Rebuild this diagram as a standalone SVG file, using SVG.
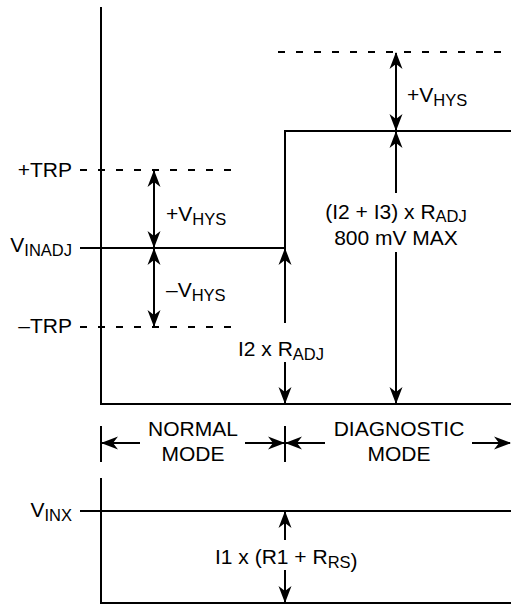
<svg xmlns="http://www.w3.org/2000/svg" width="511" height="604" viewBox="0 0 511 604">
<defs>
<marker id="ah" markerUnits="userSpaceOnUse" markerWidth="20" markerHeight="16" viewBox="-17 -8 19 16" refX="0" refY="0" orient="auto-start-reverse">
<path d="M1,0 L-16,-6.5 L-11,0 L-16,6.5 Z" fill="#000"/>
</marker>
<style>
.ln{stroke:#000;stroke-width:2;fill:none}
.ds{stroke:#000;stroke-width:2;fill:none;stroke-dasharray:7 11}
.a1{stroke:#000;stroke-width:2;fill:none;marker-end:url(#ah)}
.a2{stroke:#000;stroke-width:2;fill:none;marker-start:url(#ah);marker-end:url(#ah)}
text{font-family:"Liberation Sans",Arial,sans-serif;font-size:21px;fill:#000}
.s{font-size:16.5px}
.m{text-anchor:middle}
.e{text-anchor:end}
</style>
</defs>
<rect width="511" height="604" fill="#fff"/>
<g id="connectors">
<line class="ln" x1="101" y1="7" x2="101" y2="405"/>
<line class="ln" x1="100" y1="404" x2="511" y2="404"/>
<polyline class="ln" points="80,248 285,248 285,131 511,131"/>
<line class="ds" x1="80" y1="170" x2="233" y2="170"/>
<line class="ds" x1="80" y1="327" x2="233" y2="327"/>
<line class="ds" x1="278" y1="52" x2="511" y2="52"/>
<line class="a2" x1="154" y1="171" x2="154" y2="247"/>
<line class="a2" x1="154" y1="249" x2="154" y2="326"/>
<line class="a2" x1="396" y1="53" x2="396" y2="130"/>
<line class="a1" x1="396" y1="193" x2="396" y2="132"/>
<line class="a1" x1="396" y1="252" x2="396" y2="403"/>
<line class="a1" x1="285" y1="323" x2="285" y2="249"/>
<line class="a1" x1="285" y1="362" x2="285" y2="403"/>
<line class="ln" x1="101" y1="426" x2="101" y2="462"/>
<line class="ln" x1="285" y1="426" x2="285" y2="462"/>
<line class="a1" x1="140" y1="443" x2="102" y2="443"/>
<line class="a1" x1="245" y1="443" x2="284" y2="443"/>
<line class="a1" x1="325" y1="443" x2="286" y2="443"/>
<line class="a1" x1="472" y1="443" x2="510" y2="443"/>
<line class="ln" x1="101" y1="478" x2="101" y2="604"/>
<line class="ln" x1="80" y1="511" x2="511" y2="511"/>
<line class="ln" x1="100" y1="603" x2="511" y2="603"/>
<line class="a1" x1="285" y1="540" x2="285" y2="512"/>
<line class="a1" x1="285" y1="570" x2="285" y2="602"/>
</g>
<g id="plus-trp"><text class="e" x="72" y="177">+TRP</text></g>
<g id="vinadj"><text class="e" x="72" y="252">V<tspan class="s" dy="4">INADJ</tspan></text></g>
<g id="minus-trp"><text class="e" x="72" y="333">–TRP</text></g>
<g id="plus-vhys-left"><text x="166" y="221">+V<tspan class="s" dy="4">HYS</tspan></text></g>
<g id="minus-vhys"><text x="166" y="297">–V<tspan class="s" dy="4">HYS</tspan></text></g>
<g id="plus-vhys-right"><text x="407" y="102">+V<tspan class="s" dy="4">HYS</tspan></text></g>
<g id="diag-level"><text class="m" x="396" y="219">(I2 + I3) x R<tspan class="s" dy="3">ADJ</tspan></text><text class="m" x="396" y="245">800 mV MAX</text></g>
<g id="normal-level"><text x="238" y="356">I2 x R<tspan class="s" dy="4">ADJ</tspan></text></g>
<g id="normal-mode"><text class="m" x="193" y="436">NORMAL</text><text class="m" x="193" y="461">MODE</text></g>
<g id="diagnostic-mode"><text class="m" x="399" y="436">DIAGNOSTIC</text><text class="m" x="399" y="461">MODE</text></g>
<g id="vinx"><text class="e" x="72" y="517">V<tspan class="s" dy="4">INX</tspan></text></g>
<g id="i1-level"><text x="215" y="564">I1 x (R1 + R<tspan class="s" dy="4">RS</tspan>)</text></g>
</svg>
